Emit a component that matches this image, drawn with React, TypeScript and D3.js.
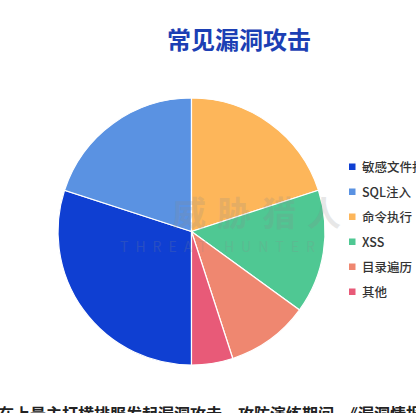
import React from "react";
import * as d3 from "d3";

const categories = ["敏感文件扫描", "SQL注入", "命令执行", "XSS", "目录遍历", "其他"];
const values = [30, 20, 20, 15, 10, 5];
const colors = ["#0F3FD2", "#5A92E2", "#FDB65A", "#4FC893", "#EF8770", "#E85A78"];
const title = "常见漏洞攻击";
const footer = "在上最主打横排服发起漏洞攻击，攻防演练期间，《漏洞情报";

export default function App() {
  const W = 416, H = 413;
  const cx = 191.5, cy = 231.5, r = 133.5;
  const pie = d3.pie<number>().sort(null).startAngle(Math.PI).endAngle(3 * Math.PI);
  const arcs = pie(values);
  const arc = d3.arc<d3.PieArcDatum<number>>().innerRadius(0).outerRadius(r);
  const legendY = d3.scalePoint<number>().domain(d3.range(categories.length)).range([167, 292]);
  return (
    <div style={{ position: "absolute", left: 0, top: 0 }}>
      <svg width={W} height={H} style={{ display: "block", background: "#fff" }}
        fontFamily="'Noto Sans CJK SC', 'Noto Sans', sans-serif">
        <text x={239} y={49} textAnchor="middle" fontSize={24} fontWeight={700} fill="#1C3FB4">{title}</text>
        <g transform={`translate(${cx},${cy})`}>
          {arcs.map((a, i) => (
            <path key={i} d={arc(a) || ""} fill={colors[i]} stroke="#ffffff" strokeWidth={1.2} />
          ))}
        </g>
        <g fill="#8a8a8a" opacity={0.2} pointerEvents="none">
          <text x={172} y={226} fontSize={34} fontWeight={700} letterSpacing={11}>威胁猎人</text>
          <text x={120} y={252} fontSize={14} letterSpacing={7}>THREAT HUNTER</text>
        </g>
        {categories.map((c, i) => (
          <g key={c} transform={`translate(349,${legendY(i)})`}>
            <rect x={0} y={-3.5} width={6.5} height={6.5} fill={colors[i]} />
            <text x={13} y={0} dy="0.36em" fontSize={12.5} fontWeight={500} fill="#333">{c}</text>
          </g>
        ))}
        <text x={-2} y={420} fontSize={16} fontWeight={700} fill="#222">{footer}</text>
      </svg>
    </div>
  );
}
